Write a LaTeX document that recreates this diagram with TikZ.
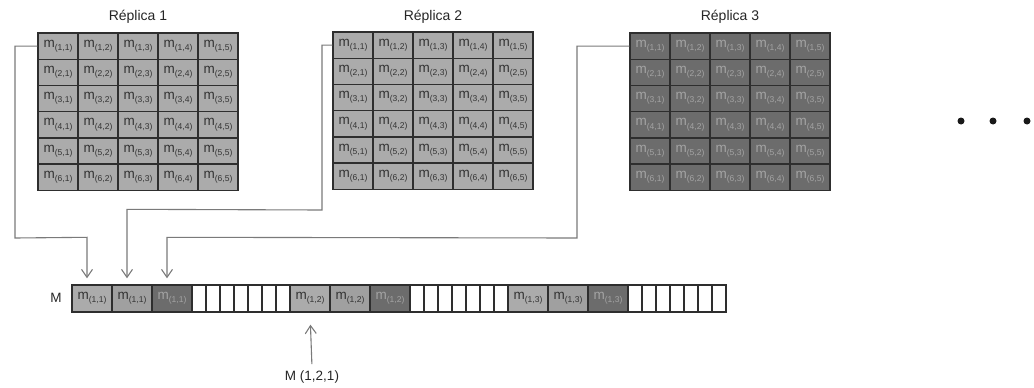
\documentclass[tikz,border=0pt]{standalone}
\usepackage{fontspec}
\setmainfont{Liberation Sans}
\usetikzlibrary{arrows.meta,calc}

\definecolor{cellLight}{HTML}{ABABAB}
\definecolor{cellMid}{HTML}{A0A0A0}
\definecolor{cellDark}{HTML}{6C6C6C}
\definecolor{gridLine}{HTML}{2E2E2E}
\definecolor{wireGray}{HTML}{7A7A7A}
\definecolor{txtDark}{HTML}{333333}
\definecolor{txtFaint}{HTML}{A4A4A4}

% element label m_(i,j) in the sans text font
\newcommand\mlab[2]{m\raisebox{-0.45ex}{\fontsize{8.5}{8.5}\selectfont(#1,#2)}}

\tikzset{
  cellbase/.style={draw=gridLine, line width=1.4pt, minimum width=40pt, minimum height=26.2pt,
    inner sep=0pt, anchor=center, font=\fontsize{13.5}{13.5}\selectfont},
  cellA/.style={cellbase, fill=cellLight, text=txtDark},
  cellB/.style={cellbase, fill=cellMid, text=txtDark},
  cellC/.style={cellbase, fill=cellDark, text=txtFaint},
  blank/.style={draw=gridLine, line width=1.4pt, fill=white, minimum width=14pt,
    minimum height=27pt, inner sep=0pt},
  title/.style={font=\fontsize{14}{14}\selectfont, text=black!85},
  lbl/.style={font=\fontsize{13.5}{13.5}\selectfont, text=black!85},
  wire/.style={draw=wireGray, line width=1.1pt},
  wirearrow/.style={wire, -{Straight Barb[length=8pt,width=11pt,line width=1.1pt]}},
  dot/.style={circle, fill=black!90, minimum size=7pt, inner sep=0pt}
}

\begin{document}
\begin{tikzpicture}[x=1pt,y=-1pt]
\useasboundingbox (0,0) rectangle (1034,388);

% titles
\node[title] (t1) at (138,17) {Réplica 1};
\node[title] (t2) at (433,17) {Réplica 2};
\node[title] (t3) at (730,17) {Réplica 3};

% three replicas of the 6x5 matrix
\foreach \r in {1,...,6}{
  \foreach \c in {1,...,5}{
    \node[cellA] (ra-\r-\c) at ({38+40*(\c-0.5)},{33+26.2*(\r-0.5)}) {\mlab{\r}{\c}};
    \node[cellA] (rb-\r-\c) at ({333+40*(\c-0.5)},{32+26.2*(\r-0.5)}) {\mlab{\r}{\c}};
    \node[cellC] (rc-\r-\c) at ({630+40*(\c-0.5)},{33+26.2*(\r-0.5)}) {\mlab{\r}{\c}};
  }
}

% flat array M
\node[lbl] (mlabel) at (56,298) {M};
\foreach \b/\j in {0/1,1/2,2/3}{
  \node[cellA, minimum height=27pt] (mb-\b-1) at ({72+218*\b+20},298.5) {\mlab{1}{\j}};
  \node[cellB, minimum height=27pt] (mb-\b-2) at ({72+218*\b+60},298.5) {\mlab{1}{\j}};
  \node[cellC, minimum height=27pt] (mb-\b-3) at ({72+218*\b+100},298.5) {\mlab{1}{\j}};
  \foreach \k in {1,...,7}{
    \node[blank] (mw-\b-\k) at ({72+218*\b+120+14*(\k-0.5)},298.5) {};
  }
}

% connectors from each replica to its slot in M
\coordinate (a1) at (15,0);
\coordinate (a2) at (322,0);
\coordinate (a3) at (577,0);

\draw[wirearrow] (ra-1-1.west) -- (ra-1-1.west -| a1) -- (15,238)
  -- ($(mb-0-1.north)+(-5,-47)$) -- ($(mb-0-1.north)+(-5,-6)$);
\draw[wirearrow] (rb-1-1.west) -- (rb-1-1.west -| a2) -- (322,210)
  -- ($(mb-0-2.north)+(-5,-75)$) -- ($(mb-0-2.north)+(-5,-6)$);
\draw[wirearrow] (rc-1-1.west) -- (rc-1-1.west -| a3) -- (577,238)
  -- ($(mb-0-3.north)+(-5,-47)$) -- ($(mb-0-3.north)+(-5,-6)$);

% index pointer
\node[lbl] (idx) at (312,377) {M (1,2,1)};
\draw[wirearrow, shorten <=3pt, shorten >=12pt] (idx.north) -- (mb-1-1.south);

% continuation dots
\node[dot] (d1) at (961,121) {};
\node[dot] (d2) at (993,121) {};
\node[dot] (d3) at (1027,121) {};
\end{tikzpicture}
\end{document}
